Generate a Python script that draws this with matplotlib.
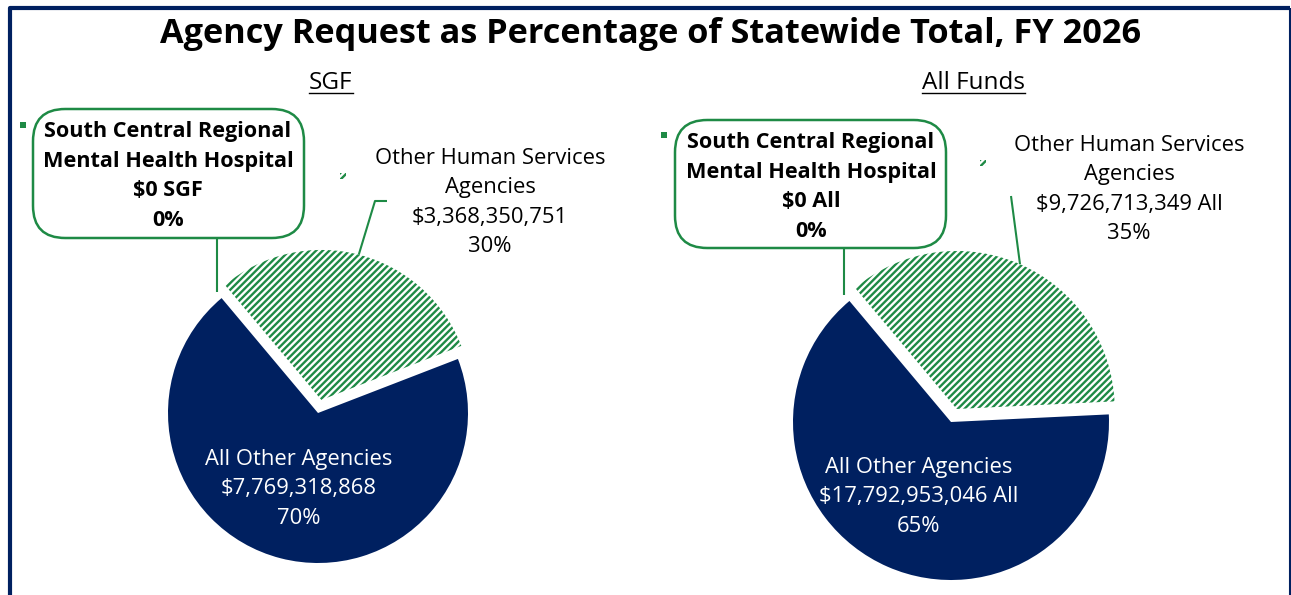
import matplotlib
matplotlib.use("Agg")
import matplotlib.pyplot as plt
from matplotlib.patches import FancyBboxPatch, Rectangle
from matplotlib.lines import Line2D
import numpy as np

W, H = 1291, 595
navy = "#002060"
green = "#1e8a45"

plt.rcParams["font.family"] = ["Open Sans", "DejaVu Sans"]
plt.rcParams["hatch.linewidth"] = 1.7

# data
categories = ["South Central Regional\nMental Health Hospital",
              "Other Human Services\nAgencies",
              "All Other Agencies"]
sgf_values = [0, 3368350751, 7769318868]
sgf_suffix = [" SGF", "", ""]
all_values = [0, 9726713349, 17792953046]
all_suffix = [" All", " All", " All"]
panel_titles = ["SGF", "All Funds"]

fig = plt.figure(figsize=(W / 100, H / 100), dpi=100)


def fx(x):
    return x / W


def fy(y):
    return 1 - y / H


def line_px(pts, lw=1.5, color=green):
    fig.add_artist(Line2D([fx(p[0]) for p in pts], [fy(p[1]) for p in pts],
                          transform=fig.transFigure, color=color, lw=lw,
                          solid_capstyle="butt"))


def text_lines(lines, cx, y0, step, **kw):
    for i, s in enumerate(lines):
        fig.text(fx(cx), fy(y0 + i * step), s, ha="center", va="baseline", **kw)


# border
line_px([(10, 595), (10, 8), (1290, 8)], lw=3, color=navy)
line_px([(1289.5, 8), (1289.5, 595)], lw=1.5, color=navy)

fig.text(fx(651), fy(43), "Agency Request as Percentage of Statewide Total, FY 2026",
         ha="center", va="baseline", fontsize=24.7, fontweight="bold")

# pie layouts: centre x, centre y, radius (pixels)
layouts = [(318, 413, 150), (951, 422, 158)]
title_x = [331, 973]
box_rect = [(33, 109, 304, 238), (675, 120, 946, 248)]
box_text = [(168, 137), (811, 148)]
other_text = [(490, 164), (1129, 151)]
other_leader_top = [[(375, 201), (387, 201)], [(1011, 196)]]
main_text = [(299, 465), (919, 473)]
key_sq = [(23, 125), (664, 135)]
key_hatch = [(343, 176), (983, 163)]

sub_titles = []
for k, (values, suffix) in enumerate([(sgf_values, sgf_suffix), (all_values, all_suffix)]):
    cx, cy, R = layouts[k]
    m = 1.3
    ax = fig.add_axes([fx(cx - m * R), fy(cy + m * R), 2 * m * R / W, 2 * m * R / H])
    wedges, _ = ax.pie(values, startangle=130, counterclock=False,
                       explode=[0, 0.09, 0],
                       colors=[green, "white", navy],
                       wedgeprops=dict(linewidth=0))
    wedges[1].set_edgecolor(green)
    wedges[1].set_hatch("/////")
    wedges[1].set_linewidth(0)
    ax.set_xlim(-m, m)
    ax.set_ylim(-m, m)
    ax.set_aspect("equal")
    ax.axis("off")

    total = sum(values)
    pct = [f"{v / total:.0%}" for v in values]
    money = [f"${v:,.0f}{s}" for v, s in zip(values, suffix)]

    t = fig.text(fx(title_x[k]), fy(89), panel_titles[k], ha="center",
                 va="baseline", fontsize=17.5)
    sub_titles.append(t)

    # zero-value slice: rounded box with bold label
    x0, y0, x1, y1 = box_rect[k]
    fig.add_artist(FancyBboxPatch((fx(x0), fy(y1)), fx(x1) - fx(x0), fy(y0) - fy(y1),
                                  boxstyle="round,pad=0,rounding_size=0.025",
                                  mutation_aspect=W / H,
                                  transform=fig.transFigure, fc="white", ec=green, lw=1.8))
    bx, by = box_text[k]
    text_lines(categories[0].split("\n") + [money[0], pct[0]], bx, by, 29.7,
               fontsize=15.6, fontweight="bold")
    fig.add_artist(Rectangle((fx(key_sq[k][0] - 3), fy(key_sq[k][1] + 3)), 6 / W, 6 / H,
                             transform=fig.transFigure, fc=green, ec="none"))

    # other human services label
    ox, oy = other_text[k]
    text_lines(categories[1].split("\n") + [money[1], pct[1]], ox, oy, 29.3, fontsize=15.8)
    fig.add_artist(Rectangle((fx(key_hatch[k][0] - 3), fy(key_hatch[k][1] + 3)), 6 / W, 6 / H,
                             transform=fig.transFigure, fc="white", ec=green, lw=0,
                             hatch="/////"))

    # main slice label
    mx, my = main_text[k]
    text_lines(categories[2].split("\n") + [money[2], pct[2]], mx, my, 29.3,
               fontsize=15.8, color="white")

    # leader lines from wedges
    fig.canvas.draw()
    w0 = wedges[0]
    a0 = np.deg2rad(w0.theta1)
    px0, py0 = ax.transData.transform((1.05 * np.cos(a0), 1.05 * np.sin(a0)))
    line_px([(px0, H - py0), (px0, y1)])

    w1 = wedges[1]
    a1 = np.deg2rad((w1.theta1 + w1.theta2) / 2)
    c1 = w1.center
    px1, py1 = ax.transData.transform((c1[0] + np.cos(a1), c1[1] + np.sin(a1)))
    line_px([(px1, H - py1)] + other_leader_top[k])

fig.canvas.draw()
for t in sub_titles:
    bb = t.get_window_extent()
    fig.add_artist(Line2D([bb.x0 / W, bb.x1 / W], [(bb.y0 + 2) / H] * 2,
                          transform=fig.transFigure, color="black", lw=1))

fig.savefig("out.png", dpi=100)
